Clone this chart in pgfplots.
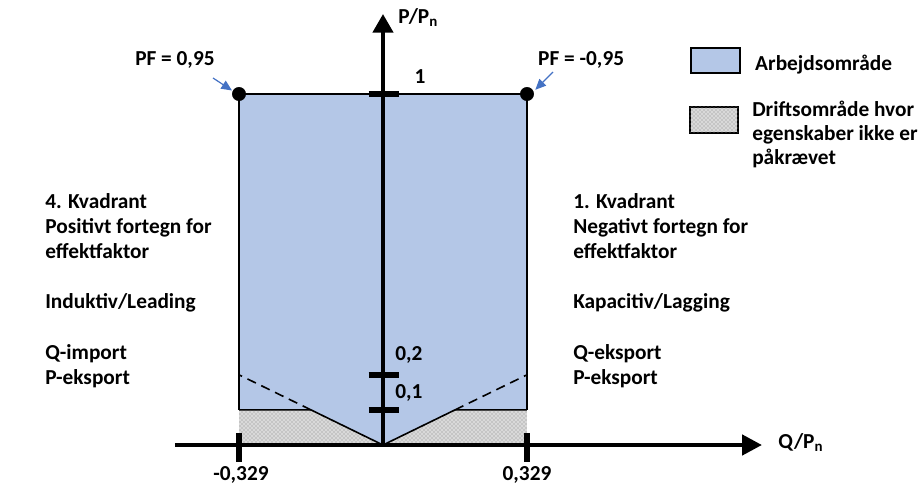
\documentclass[border=0pt]{standalone}
\usepackage{pgfplots}
\pgfplotsset{compat=1.18}
\usepackage{fontspec}
\setmainfont{Carlito}
\usetikzlibrary{patterns,arrows.meta}
\definecolor{areablue}{HTML}{B4C7E7}
\definecolor{arrblue}{HTML}{4472C4}
\begin{document}
\begin{tikzpicture}[lbl/.style={font=\fontsize{16}{18.75}\selectfont\bfseries, inner sep=0pt}]
\begin{axis}[scale only axis, width=688.5pt, height=367.5pt, hide axis, clip=false,
 xmin=-0.87506, xmax=1.22237, ymin=-0.12821, ymax=1.26781]
% working area
\addplot[fill=areablue, draw=none] coordinates {(-0.329,1) (0.329,1) (0.329,0.1) (0.1645,0.1) (0,0) (-0.1645,0.1) (-0.329,0.1)} -- cycle;
% hatched area
\addplot[draw=none, fill=gray!30, postaction={pattern=crosshatch dots, pattern color=gray!95}] coordinates {(-0.329,0) (-0.329,0.1) (-0.1645,0.1) (0,0) (0.1645,0.1) (0.329,0.1) (0.329,0)} -- cycle;
% outlines
\addplot[black, line width=1.2pt] coordinates {(-0.329,0.1) (-0.329,1) (0.329,1) (0.329,0.1)};
\addplot[black, line width=1.2pt] coordinates {(-0.329,0.1) (-0.1645,0.1) (0,0) (0.1645,0.1) (0.329,0.1)};
\addplot[black, line width=1.2pt, dash pattern=on 7pt off 4.5pt] coordinates {(-0.1645,0.1) (-0.329,0.2)};
\addplot[black, line width=1.2pt, dash pattern=on 7pt off 4.5pt] coordinates {(0.1645,0.1) (0.329,0.2)};
% axes
\addplot[black, line width=3.4pt, -{Triangle[length=15pt,width=15pt]}] coordinates {(-0.4753,0) (0.866,0)};
\addplot[black, line width=3.2pt, -{Triangle[length=14pt,width=15pt]}] coordinates {(0,0) (0,1.228)};
% ticks
\addplot[black, line width=4.3pt] coordinates {(-0.033,0.1) (0.036,0.1)};
\addplot[black, line width=4.3pt] coordinates {(-0.033,0.2) (0.036,0.2)};
\addplot[black, line width=4.3pt] coordinates {(-0.033,1) (0.036,1)};
\addplot[black, line width=4.3pt] coordinates {(-0.329,-0.048) (-0.329,0.034)};
\addplot[black, line width=4.3pt] coordinates {(0.329,-0.048) (0.329,0.034)};
% PF points
\addplot[only marks, mark=*, mark size=5pt, black] coordinates {(-0.329,1) (0.329,1)};
% arrows to points
\draw[arrblue, line width=0.9pt, -{Triangle[length=8pt,width=7pt]}] (axis cs:-0.3884,1.0456) -- (axis cs:-0.3450,1.0100);
\draw[arrblue, line width=0.9pt, -{Triangle[length=8pt,width=7pt]}] (axis cs:0.3884,1.0627) -- (axis cs:0.3480,1.0120);
% labels
\node[lbl, anchor=mid west] at (axis cs:-0.5666,1.0912) {PF = 0,95};
\node[lbl, anchor=mid west] at (axis cs:0.3541,1.0912) {PF = -0,95};
\node[lbl, anchor=mid west] at (axis cs:0.0343,1.2108) {P/P\textsubscript{n}};
\node[lbl, anchor=mid] at (axis cs:0.0845,1.0399) {1};
\node[lbl, anchor=mid west] at (axis cs:0.0274,0.2507) {0,2};
\node[lbl, anchor=mid west] at (axis cs:0.0274,0.1425) {0,1};
\node[lbl, anchor=mid] at (axis cs:-0.3244,-0.0912) {-0,329};
\node[lbl, anchor=mid] at (axis cs:0.329,-0.0912) {0,329};
\node[lbl, anchor=mid west] at (axis cs:0.9025,0) {Q/P\textsubscript{n}};
% left block
\node[lbl, anchor=mid west] at (axis cs:-0.7722,0.6838) {4. Kvadrant};
\node[lbl, anchor=mid west] at (axis cs:-0.7722,0.6125) {Positivt fortegn for};
\node[lbl, anchor=mid west] at (axis cs:-0.7722,0.5413) {effektfaktor};
\node[lbl, anchor=mid west] at (axis cs:-0.7722,0.3989) {Induktiv/Leading};
\node[lbl, anchor=mid west] at (axis cs:-0.7722,0.2536) {Q-import};
\node[lbl, anchor=mid west] at (axis cs:-0.7722,0.1823) {P-eksport};
% right block
\node[lbl, anchor=mid west] at (axis cs:0.4341,0.6838) {1. Kvadrant};
\node[lbl, anchor=mid west] at (axis cs:0.4341,0.6125) {Negativt fortegn for};
\node[lbl, anchor=mid west] at (axis cs:0.4341,0.5413) {effektfaktor};
\node[lbl, anchor=mid west] at (axis cs:0.4341,0.3989) {Kapacitiv/Lagging};
\node[lbl, anchor=mid west] at (axis cs:0.4341,0.2536) {Q-eksport};
\node[lbl, anchor=mid west] at (axis cs:0.4341,0.1823) {P-eksport};
% legend
\draw[fill=areablue, line width=1.3pt] (axis cs:0.7037,1.1311) rectangle (axis cs:0.8156,1.0598);
\draw[fill=gray!30, line width=1.3pt, postaction={pattern=crosshatch dots, pattern color=gray!95}] (axis cs:0.7014,0.9630) rectangle (axis cs:0.8111,0.8889);
\node[lbl, anchor=mid west] at (axis cs:0.8499,1.0769) {Arbejdsområde};
\node[lbl, anchor=mid west] at (axis cs:0.8431,0.9459) {Driftsområde hvor};
\node[lbl, anchor=mid west] at (axis cs:0.8431,0.8775) {egenskaber ikke er};
\node[lbl, anchor=mid west] at (axis cs:0.8431,0.8091) {påkrævet};
\end{axis}
\pgfresetboundingbox
\path[use as bounding box] (current axis.south west) rectangle (current axis.north east);
\end{tikzpicture}
\end{document}
